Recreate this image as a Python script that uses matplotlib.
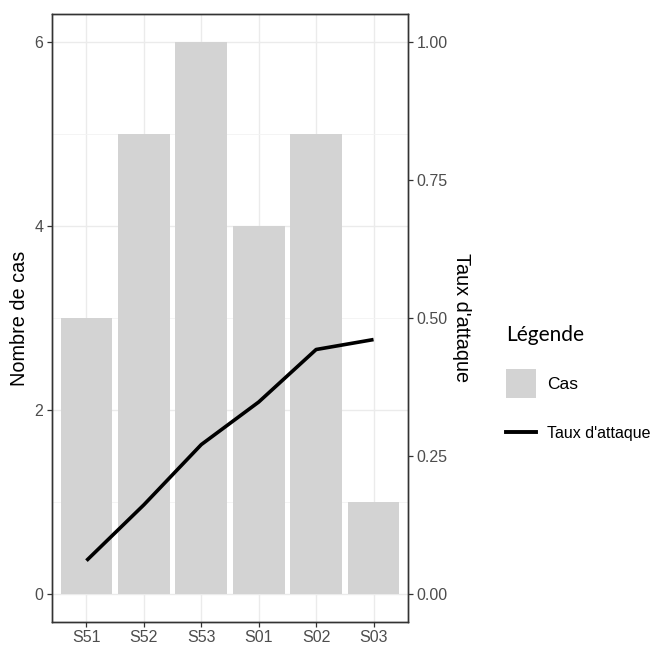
import matplotlib
matplotlib.use("Agg")
import matplotlib.pyplot as plt
import numpy as np
from matplotlib.patches import Patch
from matplotlib.lines import Line2D
from matplotlib.legend_handler import HandlerLine2D

categories = ["S51", "S52", "S53", "S01", "S02", "S03"]
cas = [3, 5, 6, 4, 5, 1]
taux = [0.061, 0.162, 0.271, 0.348, 0.443, 0.461]

plt.rcParams['font.family'] = ['Liberation Sans', 'DejaVu Sans']

fig = plt.figure(figsize=(6.57, 6.46), dpi=100)
ax = fig.add_axes([52/657, 1-622/646, (408-52)/657, (622-14)/646])

x = list(range(1, len(categories) + 1))
ymax = 6.0
ax.bar(x, cas, width=0.9, color="#D3D3D3", zorder=2)
ax.plot(x, [t * ymax for t in taux], color="black", lw=2.6, zorder=3,
        solid_capstyle="butt")

ax.set_xlim(0.4, 6.6)
ax.set_ylim(-0.3, 6.3)
ax.set_xticks(x)
ax.set_xticklabels(categories)
ax.set_yticks([0, 2, 4, 6])
ax.set_yticks([1, 3, 5], minor=True)
ax.grid(which="major", color="#EBEBEB", lw=1.0, zorder=0)
ax.grid(which="minor", axis="y", color="#F3F3F3", lw=0.6, zorder=0)
ax.set_axisbelow(True)
for s in ax.spines.values():
    s.set_color("#333333")
    s.set_linewidth(1.0)
ax.tick_params(axis="both", which="major", colors="#333333", labelcolor="#4D4D4D",
               labelsize=11.5, length=3.8, width=0.9, pad=2.5)
ax.tick_params(axis="x", which="major", pad=2.0)
ax.tick_params(axis="both", which="minor", length=0)
ax.set_ylabel("Nombre de cas", fontsize=14.3, color="black", labelpad=4)

ax2 = ax.twinx()
ax2.set_ylim(-0.3 / ymax, 6.3 / ymax)
ax2.set_yticks([0, 0.25, 0.5, 0.75, 1.0])
ax2.set_yticklabels(["0.00", "0.25", "0.50", "0.75", "1.00"])
ax2.tick_params(axis="y", colors="#333333", labelcolor="#4D4D4D", labelsize=11.5,
                length=3.8, width=0.9, pad=2.5)
for s in ax2.spines.values():
    s.set_color("#333333")
    s.set_linewidth(1.0)
ax2.set_ylabel("Taux d'attaque", fontsize=14.3, rotation=270, labelpad=17)


class LoweredLine(HandlerLine2D):
    def create_artists(self, legend, orig_handle, xdescent, ydescent, width,
                       height, fontsize, trans):
        arts = super().create_artists(legend, orig_handle, xdescent, ydescent,
                                      width, height, fontsize, trans)
        for a in arts:
            a.set_ydata(np.asarray(a.get_ydata()) - 3.5)
        return arts


handles = [Patch(facecolor="#D3D3D3", edgecolor="none"),
           Line2D([0], [0], color="black", lw=2.8)]
leg = fig.legend(handles, ["Cas", "Taux d'attaque"], loc="upper left",
                 bbox_to_anchor=(506/657, 1-325/646), frameon=False,
                 borderpad=0, borderaxespad=0,
                 title="Légende", fontsize=12.5, handlelength=1.72, handleheight=2.19,
                 labelspacing=1.14, handletextpad=0.65, alignment="left",
                 handler_map={Line2D: LoweredLine()})
leg.get_title().set_fontsize(15)
leg.get_title().set_family(["Lato", "DejaVu Sans"])
leg.get_texts()[1].set_fontsize(11.5)
try:
    leg._legend_box.sep = 17.2
except Exception:
    pass

fig.savefig("out.png", dpi=100)
